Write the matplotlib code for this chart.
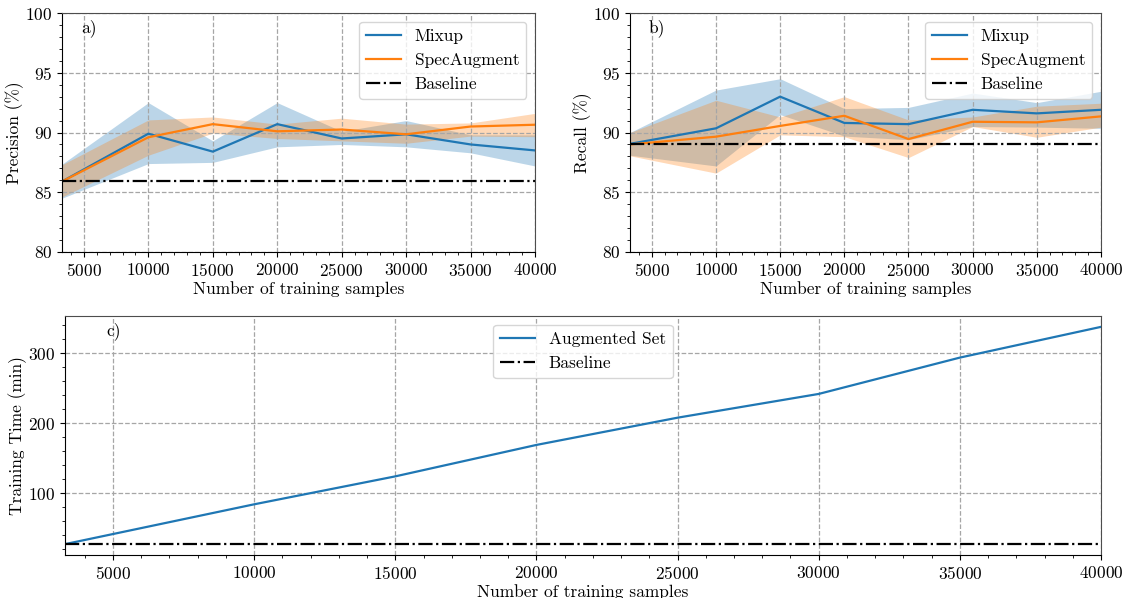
import matplotlib
matplotlib.use("Agg")
import matplotlib.pyplot as plt
from matplotlib.ticker import MultipleLocator

plt.rcParams["font.family"] = "serif"
plt.rcParams["font.serif"] = ["cmr10", "DejaVu Serif"]
plt.rcParams["mathtext.fontset"] = "cm"
plt.rcParams["axes.unicode_minus"] = False
plt.rcParams["axes.formatter.use_mathtext"] = True
plt.rcParams["font.size"] = 12.5

samples = [3300, 10000, 15000, 20000, 25000, 30000, 35000, 40000]

# precision (%)
prec_mixup = [85.9, 89.9, 88.4, 90.7, 89.5, 89.85, 89.0, 88.5]
prec_mixup_hi = [87.35, 92.5, 89.3, 92.5, 90.1, 91.0, 89.8, 89.8]
prec_mixup_lo = [84.5, 87.4, 87.5, 88.8, 89.0, 88.8, 88.3, 87.2]
prec_spec = [85.9, 89.6, 90.7, 90.1, 90.25, 89.85, 90.5, 90.65]
prec_spec_hi = [87.3, 91.05, 91.3, 90.7, 91.2, 90.7, 90.8, 91.6]
prec_spec_lo = [84.6, 88.1, 89.95, 89.5, 89.3, 89.1, 89.7, 89.65]
prec_base = 85.9

# recall (%)
rec_mixup = [89.05, 90.35, 93.0, 90.8, 90.7, 91.9, 91.6, 91.9]
rec_mixup_hi = [90.0, 93.55, 94.5, 92.0, 92.1, 93.3, 92.5, 93.45]
rec_mixup_lo = [88.1, 87.2, 91.5, 89.7, 89.4, 90.5, 90.45, 90.35]
rec_spec = [89.0, 89.65, 90.55, 91.4, 89.45, 90.9, 90.85, 91.35]
rec_spec_hi = [90.0, 92.7, 91.3, 93.0, 91.05, 91.3, 92.2, 92.45]
rec_spec_lo = [88.05, 86.6, 89.8, 89.65, 87.9, 90.5, 89.6, 90.45]
rec_base = 89.0

# training time (min)
train_time = [27, 84, 124, 169, 208, 242, 294, 338]
train_base = 27

fig = plt.figure(figsize=(11.23, 5.98), dpi=100)
W, H = 1123, 598


def rect(l, t, r, b):
    return [l / W, 1 - b / H, (r - l) / W, (b - t) / H]


ax_a = fig.add_axes(rect(62, 13, 535, 252))
ax_b = fig.add_axes(rect(630, 13, 1101, 252))
ax_c = fig.add_axes(rect(65, 316, 1101, 555))


def style(ax, tag):
    ax.minorticks_on()
    ax.grid(True, which="major", linestyle="--", color="0.65", linewidth=0.9)
    ax.set_xlim(samples[0], samples[-1])
    ax.set_xlabel("Number of training samples", labelpad=2)
    for side in ("top", "right"):
        ax.spines[side].set_color("0.3")
    ax.text(0.04, 0.975, tag, transform=ax.transAxes, va="top", ha="left")


def metric_panel(ax, mix, mix_lo, mix_hi, spec, spec_lo, spec_hi, base, ylabel, tag):
    ax.fill_between(samples, mix_lo, mix_hi, color="C0", alpha=0.3, linewidth=0)
    ax.fill_between(samples, spec_lo, spec_hi, color="C1", alpha=0.3, linewidth=0)
    ax.plot(samples, mix, color="C0", lw=1.6, label="Mixup")
    ax.plot(samples, spec, color="C1", lw=1.6, label="SpecAugment")
    ax.axhline(base, color="black", ls="-.", lw=1.6, label="Baseline")
    ax.set_ylim(80, 100)
    ax.set_ylabel(ylabel, labelpad=1)
    ax.set_xticks(range(5000, 40001, 5000))
    style(ax, tag)
    ax.legend(loc="upper right")


metric_panel(ax_a, prec_mixup, prec_mixup_lo, prec_mixup_hi,
             prec_spec, prec_spec_lo, prec_spec_hi, prec_base, "Precision (%)", "a)")
metric_panel(ax_b, rec_mixup, rec_mixup_lo, rec_mixup_hi,
             rec_spec, rec_spec_lo, rec_spec_hi, rec_base, "Recall (%)", "b)")

ax_c.plot(samples, train_time, color="C0", lw=1.6, label="Augmented Set")
ax_c.plot([samples[0], samples[-1]], [train_base, train_base], color="black",
          ls="-.", lw=1.6, label="Baseline")
ax_c.set_ylabel("Training Time (min)", labelpad=1)
ax_c.set_xticks(range(5000, 40001, 5000))
ax_c.yaxis.set_major_locator(MultipleLocator(100))
style(ax_c, "c)")
ax_c.yaxis.set_minor_locator(MultipleLocator(20))
ax_c.legend(loc="upper center")

fig.savefig("out.png", dpi=100)
